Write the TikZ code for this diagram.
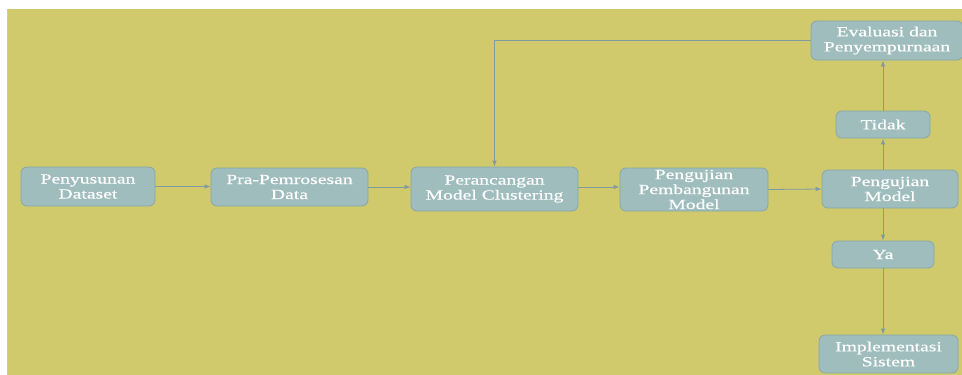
\documentclass[tikz,border=0pt]{standalone}
\usepackage{fontspec}
\newfontfamily\boxfont[FakeStretch=1.4,FakeBold=0.4]{Liberation Serif}
\usetikzlibrary{arrows.meta}
\definecolor{bgyellow}{HTML}{D1CA6D}
\definecolor{boxfill}{HTML}{9EBDBC}
\definecolor{boxline}{HTML}{86A6A8}
\definecolor{arrowcol}{HTML}{7D9BA0}
\definecolor{edgegrey}{HTML}{C8C8C8}
\begin{document}
\begin{tikzpicture}[x=1pt,y=-1pt,
  stepbox/.style={draw=boxline, line width=0.8pt, fill=boxfill, rounded corners=6pt,
    inner sep=0pt, align=center, text=white,
    font=\boxfont\fontsize{14}{15}\selectfont},
  conn/.style={draw=arrowcol, line width=0.8pt, -{Latex[length=6pt,width=4.5pt]}}]
\useasboundingbox (0,0) rectangle (962,375);
\fill[white] (0,0) rectangle (962,375);
\fill[bgyellow] (8,9) rectangle (962,375);
\draw[edgegrey, line width=1.2pt] (7.5,9) -- (7.5,375);
\begin{scope}
\clip (8,9) rectangle (962,375);
\node[stepbox, minimum width=134pt, minimum height=39pt] (ds) at (88,186.5) {Penyusunan\\Dataset};
\node[stepbox, minimum width=157pt, minimum height=38pt] (pra) at (289.5,187) {Pra-Pemrosesan\\Data};
\node[stepbox, minimum width=167pt, minimum height=44pt] (per) at (494.5,189) {Perancangan\\Model Clustering};
\node[stepbox, minimum width=148pt, minimum height=43pt] (pb) at (694,189.5) {Pengujian\\Pembangunan\\Model};
\node[stepbox, minimum width=136pt, minimum height=38pt] (pm) at (890,189) {Pengujian\\Model};
\node[stepbox, minimum width=94pt, minimum height=27pt] (td) at (883,124.5) {Tidak};
\node[stepbox, minimum width=152pt, minimum height=39pt] (ev) at (887,40.5) {Evaluasi dan\\Penyempurnaan};
\node[stepbox, minimum width=102pt, minimum height=27pt] (ya) at (883,254.5) {Ya};
\node[stepbox, minimum width=139pt, minimum height=38pt] (im) at (888.5,354) {Implementasi\\Sistem};
\end{scope}
\draw[conn] (ds.east) -- (pra.west |- ds.east);
\draw[conn] (pra.east) -- (per.west |- pra.east);
\draw[conn] (per.east |- pra.east) -- (pb.west |- pra.east);
\draw[conn] (pb.east) -- (pm.west);
\draw[conn] (ya.north |- pm.south) -- (ya.north);
\draw[conn] (ya.south) -- (ya.south |- im.north);
\draw[conn] (td.south |- pm.north) -- (td.south);
\draw[conn] (td.north) -- (td.north |- ev.south);
\draw[conn] (ev.west) -| (per.north);
\end{tikzpicture}
\end{document}
